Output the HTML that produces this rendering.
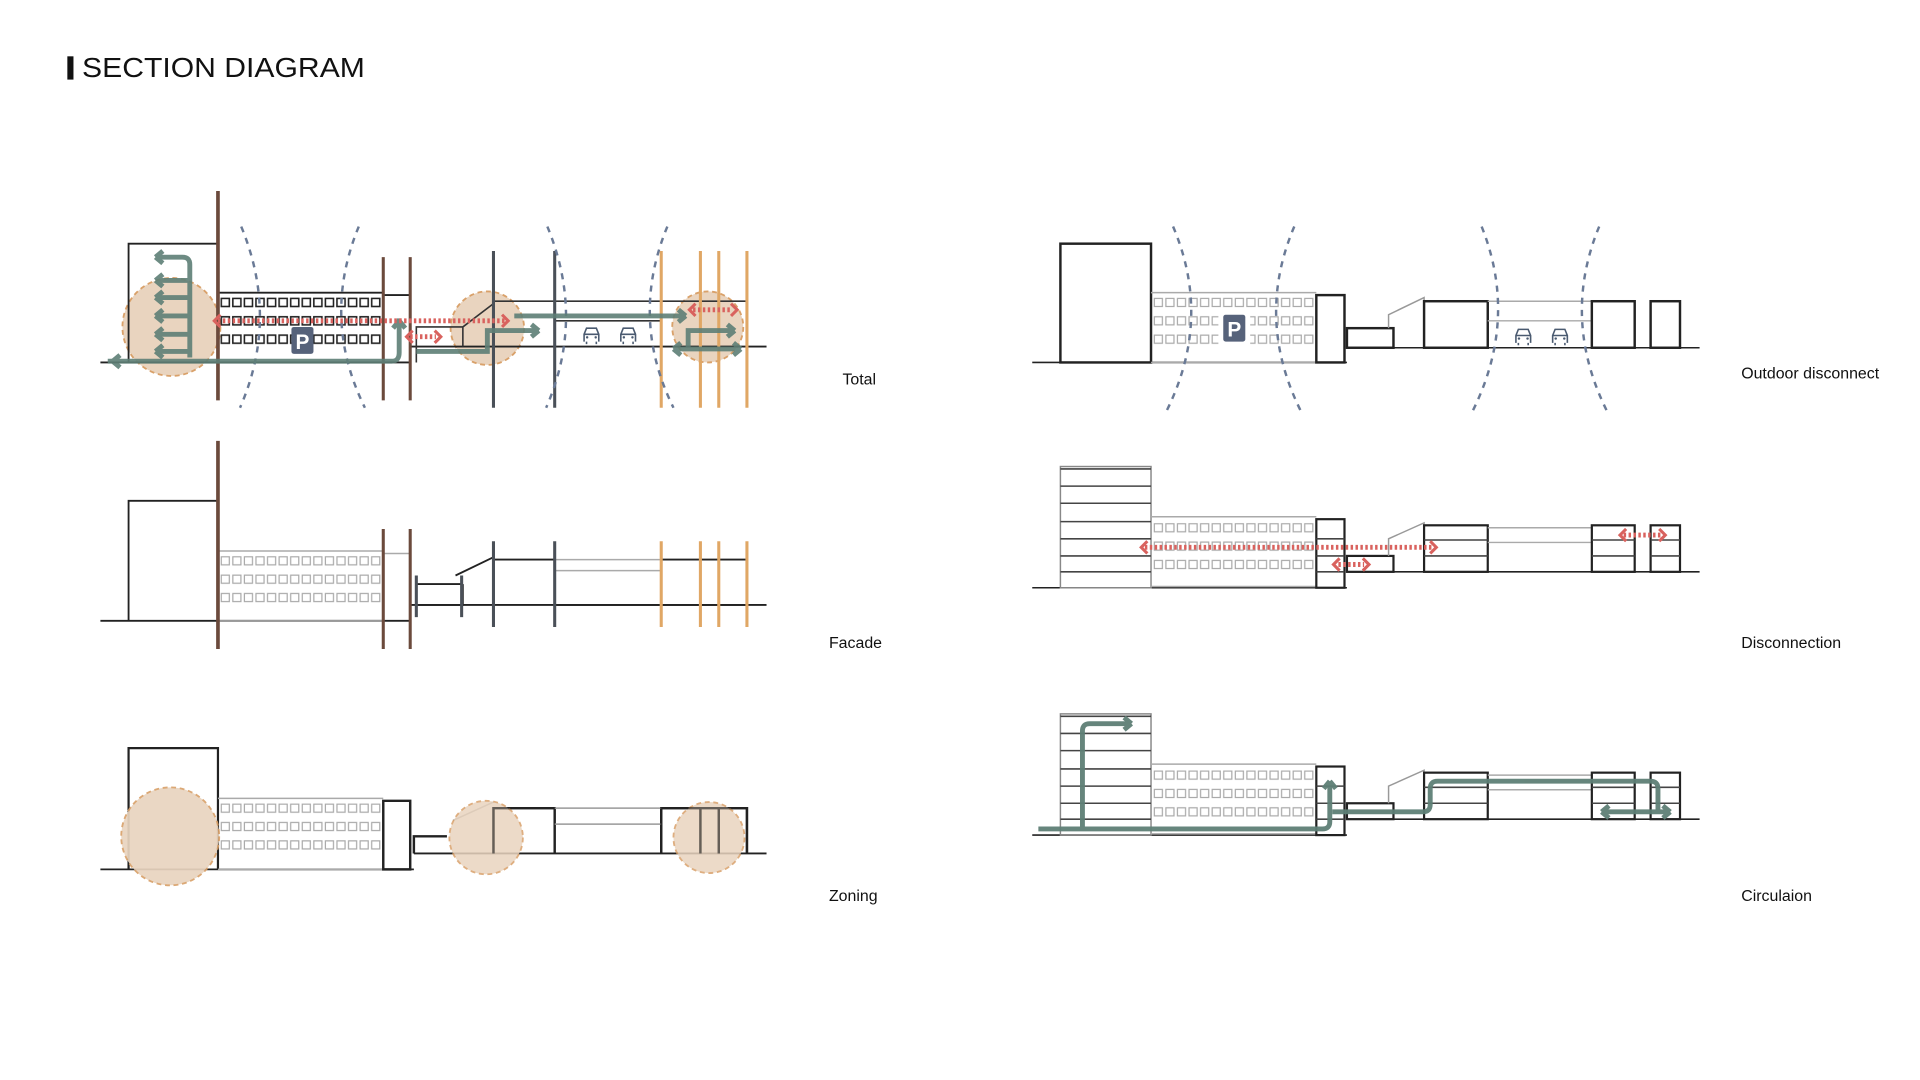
<!DOCTYPE html>
<html><head><meta charset="utf-8"><style>
html,body{margin:0;padding:0;background:#fff;width:1920px;height:1080px;overflow:hidden}
svg{display:block}
text{font-family:"Liberation Sans",sans-serif}
</style></head><body>
<svg width="1920" height="1080" viewBox="0 0 1568 882" preserveAspectRatio="none" xmlns="http://www.w3.org/2000/svg">
<defs>
<pattern id="winD" x="180" y="243" width="9.45" height="15" patternUnits="userSpaceOnUse"><rect x="0.7" y="0.7" width="6.6" height="6.6" fill="none" stroke="#222" stroke-width="1.3"/></pattern>
<pattern id="winL" x="180" y="243" width="9.45" height="15" patternUnits="userSpaceOnUse"><rect x="0.7" y="0.7" width="6.6" height="6.6" fill="none" stroke="#aaa" stroke-width="1"/></pattern>
<g id="car"><path d="M-6,6 v-6 l2,-5 h8 l2,5 v6 M-6,0 h12 M-4,6 v2 M4,6 v2" fill="none" stroke="#4a5a70" stroke-width="1.3"/><circle cx="-3.5" cy="2.5" r="1" fill="#4a5a70"/><circle cx="3.5" cy="2.5" r="1" fill="#4a5a70"/></g>
<g id="Psign"><rect x="-9" y="-11" width="18" height="22" rx="2" fill="#56627a"/><text x="0" y="7" font-size="17" font-weight="bold" fill="#fff" text-anchor="middle">P</text></g>
</defs>

<rect x="55" y="46" width="5" height="19" fill="#111"/>
<text x="67" y="63" font-size="23" fill="#111" textLength="231" lengthAdjust="spacingAndGlyphs">SECTION DIAGRAM</text>

<text x="688" y="314" font-size="13" fill="#111">Total</text>
<text x="677" y="529" font-size="13" fill="#111">Facade</text>
<text x="677" y="736" font-size="13" fill="#111">Zoning</text>
<text x="1422" y="309" font-size="13" fill="#111">Outdoor disconnect</text>
<text x="1422" y="529" font-size="13" fill="#111">Disconnection</text>
<text x="1422" y="736" font-size="13" fill="#111">Circulaion</text>

<!-- ========== TOTAL ========== -->
<g>
<circle cx="140" cy="267" r="40" fill="#e9d4bf" stroke="#d9a16a" stroke-width="1.5" stroke-dasharray="4 3"/>
<circle cx="398" cy="268" r="30" fill="#e9d4bf" stroke="#d9a16a" stroke-width="1.5" stroke-dasharray="4 3"/>
<circle cx="578" cy="267" r="29" fill="#e9d4bf" stroke="#d9a16a" stroke-width="1.5" stroke-dasharray="4 3"/>
<line x1="82" y1="296" x2="335" y2="296" stroke="#222" stroke-width="1.5"/>
<line x1="335" y1="283" x2="626" y2="283" stroke="#222" stroke-width="1.5"/>
<path d="M105,296 V199 H178" fill="none" stroke="#222" stroke-width="1.5"/>
<path d="M178,239 H313 M313,241 H335 V296" fill="none" stroke="#222" stroke-width="1.5"/>
<rect x="180" y="243" width="132" height="40" fill="url(#winD)"/>
<use href="#Psign" x="247" y="278"/>
<path d="M340,296 V267 H378 V283 M378,267 L403,248 M403,246 H610 M453,262 H540" fill="none" stroke="#333" stroke-width="1.3"/>
<use href="#car" x="483" y="273"/><use href="#car" x="513" y="273"/>
<line x1="178" y1="156" x2="178" y2="327" stroke="#6b4a3c" stroke-width="3"/>
<line x1="313" y1="210" x2="313" y2="327" stroke="#6b4a3c" stroke-width="2.5"/>
<line x1="335" y1="210" x2="335" y2="327" stroke="#6b4a3c" stroke-width="2.5"/>
<line x1="403" y1="205" x2="403" y2="333" stroke="#4a5058" stroke-width="2.5"/>
<line x1="453" y1="205" x2="453" y2="333" stroke="#4a5058" stroke-width="2.5"/>
<g stroke="#e0a765" stroke-width="2.5"><line x1="540" y1="205" x2="540" y2="333"/><line x1="572" y1="205" x2="572" y2="333"/><line x1="587" y1="205" x2="587" y2="333"/><line x1="610" y1="205" x2="610" y2="333"/></g>
<g fill="none" stroke="#6a7a96" stroke-width="2" stroke-dasharray="5 5">
<path d="M197,185 Q228,260 196,333"/><path d="M293,185 Q262,260 298,333"/>
<path d="M447,185 Q478,260 446,333"/><path d="M545,185 Q514,260 550,333"/>
</g>
<g fill="none" stroke="#5e7f76" stroke-width="4" opacity="0.9">
<path d="M88,295 H320 Q326,295 326,288 V260"/><path d="M326,262 l-5,6 M326,262 l5,6"/>
<path d="M92,295 l6,-5 M92,295 l6,5"/>
<path d="M155,292 V216 Q155,210 149,210 H127"/><path d="M127,210 l6,-5 M127,210 l6,5"/>
<path d="M155,229 H127 M155,243 H127 M155,258 H127 M155,273 H127 M155,287 H127"/>
<path d="M127,229 l6,-5 M127,229 l6,5 M127,243 l6,-5 M127,243 l6,5 M127,258 l6,-5 M127,258 l6,5 M127,273 l6,-5 M127,273 l6,5 M127,287 l6,-5 M127,287 l6,5"/>
<path d="M340,287 H398 V270 H440"/><path d="M440,270 l-6,-5 M440,270 l-6,5"/>
<path d="M420,258 H560"/><path d="M560,258 l-6,-5 M560,258 l-6,5"/>
<path d="M562,285 V270 H600 M600,270 l-6,-5 M600,270 l-6,5 M550,285 H605 M550,285 l6,-5 M550,285 l6,5 M605,285 l-6,-5 M605,285 l-6,5"/>
</g>
<g fill="none" stroke="#d9625e" stroke-width="4">
<line x1="178" y1="262" x2="412" y2="262" stroke-dasharray="2 2"/>
<path d="M180,257 l-5,5 5,5 M410,257 l5,5 -5,5" stroke-width="2.5"/>
<line x1="335" y1="275" x2="356" y2="275" stroke-dasharray="2 2"/>
<path d="M337,270 l-5,5 5,5 M355,270 l5,5 -5,5" stroke-width="2.5"/>
<line x1="566" y1="253" x2="598" y2="253" stroke-dasharray="2 2"/>
<path d="M568,248 l-5,5 5,5 M597,248 l5,5 -5,5" stroke-width="2.5"/>
</g>
</g>

<!-- ========== FACADE ========== -->
<g>
<line x1="82" y1="507" x2="335" y2="507" stroke="#222" stroke-width="1.5"/>
<line x1="335" y1="494" x2="626" y2="494" stroke="#222" stroke-width="1.5"/>
<path d="M105,507 V409 H178" fill="none" stroke="#222" stroke-width="1.5"/>
<path d="M178,450 H313 M178,507 H313 M313,452 H335" fill="none" stroke="#aaa" stroke-width="1.2"/>
<g transform="translate(0,211)"><rect x="180" y="243" width="132" height="40" fill="url(#winL)"/></g>
<path d="M340,477 H378 M340,494 H378 V477 M372,470 L403,455 M403,457 H453 M540,457 H610 M453,494 H610" fill="none" stroke="#222" stroke-width="1.5"/>
<path d="M453,466 H540 M453,457 H540" stroke="#aaa" stroke-width="1.2"/>
<line x1="178" y1="360" x2="178" y2="530" stroke="#6b4a3c" stroke-width="3"/>
<line x1="313" y1="432" x2="313" y2="530" stroke="#6b4a3c" stroke-width="2.5"/>
<line x1="335" y1="432" x2="335" y2="530" stroke="#6b4a3c" stroke-width="2.5"/>
<line x1="340" y1="470" x2="340" y2="504" stroke="#4a5058" stroke-width="2.5"/>
<line x1="377" y1="470" x2="377" y2="504" stroke="#4a5058" stroke-width="2.5"/>
<line x1="403" y1="442" x2="403" y2="512" stroke="#4a5058" stroke-width="2.5"/>
<line x1="453" y1="442" x2="453" y2="512" stroke="#4a5058" stroke-width="2.5"/>
<g stroke="#e0a765" stroke-width="2.5"><line x1="540" y1="442" x2="540" y2="512"/><line x1="572" y1="442" x2="572" y2="512"/><line x1="587" y1="442" x2="587" y2="512"/><line x1="610" y1="442" x2="610" y2="512"/></g>
</g>

<!-- ========== ZONING ========== -->
<g>
<line x1="82" y1="710" x2="338" y2="710" stroke="#222" stroke-width="1.5"/>
<line x1="338" y1="697" x2="626" y2="697" stroke="#222" stroke-width="1.5"/>
<path d="M105,710 V611 H178 V710" fill="none" stroke="#222" stroke-width="1.8"/>
<path d="M178,652 H313 M178,710 H313" fill="none" stroke="#aaa" stroke-width="1.2"/>
<g transform="translate(0,413)"><rect x="180" y="243" width="132" height="40" fill="url(#winL)"/></g>
<path d="M313,710 V654 H335 V710 Z" fill="none" stroke="#222" stroke-width="2"/>
<path d="M338,697 V683 H365 M403,697 V660 H453 V697 M540,697 V660 H610 V697 M572,660 V697 M587,660 V697" fill="none" stroke="#222" stroke-width="2"/>
<path d="M370,670 L403,655 M453,660 H540 M453,673 H540" stroke="#999" stroke-width="1.2"/>
<circle cx="139" cy="683" r="40" fill="#e9d4bf" stroke="#d9a16a" stroke-width="1.5" stroke-dasharray="4 3" opacity="0.92"/>
<circle cx="397" cy="684" r="30" fill="#e9d4bf" stroke="#d9a16a" stroke-width="1.5" stroke-dasharray="4 3" opacity="0.85"/>
<circle cx="579" cy="684" r="29" fill="#e9d4bf" stroke="#d9a16a" stroke-width="1.5" stroke-dasharray="4 3" opacity="0.85"/>
<path d="M403,697 V660 H453 M540,697 V660 H610 V697 M572,660 V697 M587,660 V697" fill="none" stroke="#222" stroke-width="2" opacity="0.6"/>
</g>

<!-- ========== OUTDOOR DISCONNECT ========== -->
<g>
<line x1="843" y1="296" x2="1100" y2="296" stroke="#222" stroke-width="1.3"/>
<line x1="1100" y1="284" x2="1388" y2="284" stroke="#222" stroke-width="1.3"/>
<rect x="866" y="199" width="74" height="97" fill="none" stroke="#222" stroke-width="2"/>
<path d="M940,239 H1075 M940,296 H1075" stroke="#aaa" stroke-width="1.2"/>
<g transform="translate(762,0)"><rect x="180" y="243" width="132" height="40" fill="url(#winL)"/></g>
<rect x="995" y="254" width="26" height="28" fill="#fff"/>
<use href="#Psign" x="1008" y="268"/>
<rect x="1075" y="241" width="23" height="55" fill="none" stroke="#222" stroke-width="2"/>
<rect x="1100" y="268" width="38" height="16" fill="none" stroke="#222" stroke-width="2"/>
<path d="M1134,268 V257 L1163,243 V284" fill="none" stroke="#999" stroke-width="1.2"/>
<rect x="1163" y="246" width="52" height="38" fill="none" stroke="#222" stroke-width="2"/>
<path d="M1215,246 H1300 M1215,262 H1300" stroke="#aaa" stroke-width="1.2"/>
<rect x="1300" y="246" width="35" height="38" fill="none" stroke="#222" stroke-width="2"/>
<rect x="1348" y="246" width="24" height="38" fill="none" stroke="#222" stroke-width="2"/>
<use href="#car" x="1244" y="274"/><use href="#car" x="1274" y="274"/>
<g fill="none" stroke="#6a7a96" stroke-width="2" stroke-dasharray="5 5">
<path d="M958,185 Q990,260 953,335"/><path d="M1057,185 Q1025,260 1062,335"/>
<path d="M1210,185 Q1240,260 1203,335"/><path d="M1306,185 Q1275,260 1312,335"/>
</g>
</g>

<!-- ========== DISCONNECTION ========== -->
<g>
<line x1="843" y1="480" x2="1100" y2="480" stroke="#222" stroke-width="1.3"/>
<line x1="1100" y1="467" x2="1388" y2="467" stroke="#222" stroke-width="1.3"/>
<rect x="866" y="381" width="74" height="99" fill="none" stroke="#888" stroke-width="1.2"/>
<path d="M866,383 H940 M866,397 H940 M866,411 H940 M866,426 H940 M866,440 H940 M866,454 H940 M866,467 H940" stroke="#444" stroke-width="1.3"/>
<path d="M940,422 H1075 M940,479 H1075" stroke="#aaa" stroke-width="1.2"/>
<g transform="translate(762,184)"><rect x="180" y="243" width="132" height="40" fill="url(#winL)"/></g>
<rect x="1075" y="424" width="23" height="56" fill="none" stroke="#222" stroke-width="1.8"/>
<path d="M1075,440 H1098 M1075,454 H1098 M1075,467 H1098" stroke="#444" stroke-width="1.3"/>
<rect x="1100" y="454" width="38" height="13" fill="none" stroke="#222" stroke-width="1.8"/>
<path d="M1134,454 V440 L1163,427 V467" fill="none" stroke="#999" stroke-width="1.2"/>
<rect x="1163" y="429" width="52" height="38" fill="none" stroke="#222" stroke-width="1.8"/>
<path d="M1163,441 H1215 M1163,454 H1215" stroke="#444" stroke-width="1.3"/>
<path d="M1215,431 H1300 M1215,443 H1300" stroke="#aaa" stroke-width="1.2"/>
<rect x="1300" y="429" width="35" height="38" fill="none" stroke="#222" stroke-width="1.8"/>
<rect x="1348" y="429" width="24" height="38" fill="none" stroke="#222" stroke-width="1.8"/>
<path d="M1300,441 H1335 M1300,454 H1335 M1348,441 H1372 M1348,454 H1372" stroke="#444" stroke-width="1.3"/>
<g fill="none" stroke="#d9625e" stroke-width="4">
<line x1="935" y1="447" x2="1170" y2="447" stroke-dasharray="2 2"/>
<path d="M937,442 l-5,5 5,5 M1168,442 l5,5 -5,5" stroke-width="2.5"/>
<line x1="1093" y1="461" x2="1114" y2="461" stroke-dasharray="2 2"/>
<path d="M1094,456 l-5,5 5,5 M1113,456 l5,5 -5,5" stroke-width="2.5"/>
<line x1="1326" y1="437" x2="1356" y2="437" stroke-dasharray="2 2"/>
<path d="M1328,432 l-5,5 5,5 M1355,432 l5,5 -5,5" stroke-width="2.5"/>
</g>
</g>

<!-- ========== CIRCULATION ========== -->
<g>
<line x1="843" y1="682" x2="1100" y2="682" stroke="#222" stroke-width="1.3"/>
<line x1="1100" y1="669" x2="1388" y2="669" stroke="#222" stroke-width="1.3"/>
<rect x="866" y="583" width="74" height="99" fill="none" stroke="#888" stroke-width="1.2"/>
<path d="M866,585 H940 M866,599 H940 M866,613 H940 M866,628 H940 M866,642 H940 M866,656 H940 M866,669 H940" stroke="#444" stroke-width="1.3"/>
<path d="M940,624 H1075 M940,681 H1075" stroke="#aaa" stroke-width="1.2"/>
<g transform="translate(762,386)"><rect x="180" y="243" width="132" height="40" fill="url(#winL)"/></g>
<rect x="1075" y="626" width="23" height="56" fill="none" stroke="#222" stroke-width="1.8"/>
<path d="M1075,642 H1098 M1075,656 H1098 M1075,669 H1098" stroke="#444" stroke-width="1.3"/>
<rect x="1100" y="656" width="38" height="13" fill="none" stroke="#222" stroke-width="1.8"/>
<path d="M1134,656 V642 L1163,629 V669" fill="none" stroke="#999" stroke-width="1.2"/>
<rect x="1163" y="631" width="52" height="38" fill="none" stroke="#222" stroke-width="1.8"/>
<path d="M1163,643 H1215 M1163,656 H1215" stroke="#444" stroke-width="1.3"/>
<path d="M1215,633 H1300 M1215,645 H1300" stroke="#aaa" stroke-width="1.2"/>
<rect x="1300" y="631" width="35" height="38" fill="none" stroke="#222" stroke-width="1.8"/>
<rect x="1348" y="631" width="24" height="38" fill="none" stroke="#222" stroke-width="1.8"/>
<path d="M1300,643 H1335 M1300,656 H1335 M1348,643 H1372 M1348,656 H1372" stroke="#444" stroke-width="1.3"/>
<g fill="none" stroke="#5e7f76" stroke-width="4" opacity="0.95">
<path d="M848,677 H1080 Q1086,677 1086,671 V640"/><path d="M1086,638 l-5,6 M1086,638 l5,6"/>
<path d="M884,677 V597 Q884,591 890,591 H922"/><path d="M924,591 l-6,-5 M924,591 l-6,5"/>
<path d="M1088,663 H1162 Q1168,663 1168,657 V644 Q1168,638 1174,638 H1348 Q1354,638 1354,644 V663"/>
<path d="M1308,663 H1364 M1308,663 l6,-5 M1308,663 l6,5 M1364,663 l-6,-5 M1364,663 l-6,5"/>
</g>
</g>
</svg>
</body></html>
